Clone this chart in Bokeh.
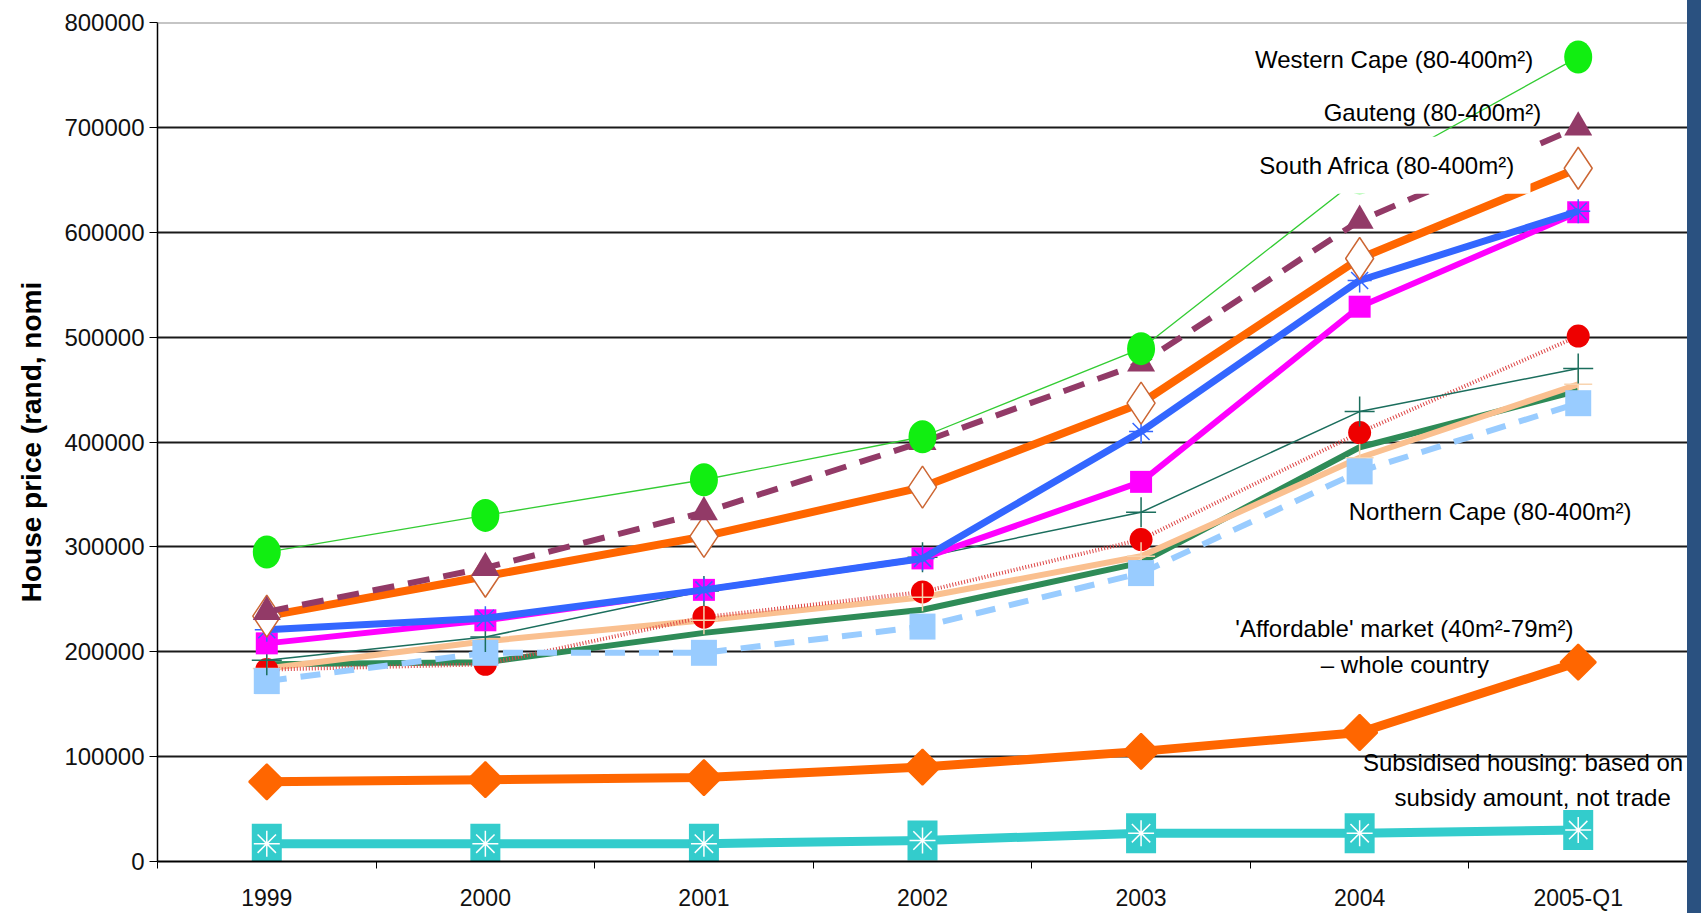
import math
from bokeh.plotting import figure
from bokeh.models import FixedTicker, NumeralTickFormatter, Label, Div, Span
from bokeh.layouts import row
from bokeh.embed import file_html
from bokeh.resources import INLINE

# ---------------- data ----------------
categories = ["1999", "2000", "2001", "2002", "2003", "2004", "2005-Q1"]
y_ticks = [0, 100000, 200000, 300000, 400000, 500000, 600000, 700000, 800000]

western_cape = [295000, 330000, 364000, 405000, 489000, 652000, 767000]
gauteng = [238000, 280000, 333000, 400000, 475000, 611000, 700000]
south_africa = [234000, 272000, 310000, 357000, 437000, 575000, 661000]
series_blue = [221000, 232000, 259000, 289000, 410000, 554000, 620000]
series_magenta = [208000, 230000, 259000, 289000, 362000, 529000, 619000]
series_red = [183000, 188000, 233000, 257000, 307000, 409000, 501000]
series_teal = [192000, 214000, 258000, 290000, 333000, 429000, 470000]
series_seagreen = [188000, 190000, 218000, 240000, 285000, 395000, 449000]
series_peach = [184000, 210000, 230000, 252000, 291000, 385000, 455000]
northern_cape = [172000, 199000, 199000, 224000, 275000, 372000, 437000]
affordable = [76000, 78000, 80000, 90000, 105000, 123000, 190000]
subsidised = [17000, 17000, 17000, 20000, 27000, 27000, 30000]

label_western_cape = "Western Cape (80-400m²)"
label_gauteng = "Gauteng (80-400m²)"
label_south_africa = "South Africa (80-400m²)"
label_northern_cape = "Northern Cape (80-400m²)"
label_affordable_1 = "'Affordable' market (40m²-79m²)"
label_affordable_2 = "– whole country"
label_subsidised_1 = "Subsidised housing: based on"
label_subsidised_2 = "subsidy amount, not trade"
y_title = "House price (rand, nomi"

FONT = "Liberation Sans"

x = [i + 0.5 for i in range(len(categories))]

p = figure(width=1687, height=913, x_range=(0, len(categories)),
           y_range=(y_ticks[0], y_ticks[-1]),
           output_backend="svg", toolbar_location=None,
           min_border_left=157, min_border_right=0, min_border_top=22,
           min_border_bottom=51, background_fill_color="white",
           border_fill_color="white", outline_line_color=None)

# x axis: labels at centres, ticks at category boundaries
p.xaxis.ticker = FixedTicker(ticks=x, minor_ticks=list(range(len(categories) + 1)))
p.xaxis.major_label_overrides = {xi: c for xi, c in zip(x, categories)}
p.xaxis.major_tick_out = 0
p.xaxis.major_tick_in = 0
p.xaxis.minor_tick_out = 7
p.xaxis.minor_tick_in = 0
p.xaxis.minor_tick_line_color = "black"
p.xaxis.axis_line_color = "black"
p.xaxis.axis_line_width = 2
p.xaxis.major_label_text_font = FONT
p.xaxis.major_label_text_font_size = "23px"
p.xaxis.major_label_text_color = "#111111"
p.xaxis.major_label_standoff = 16

# y axis
p.yaxis.ticker = FixedTicker(ticks=y_ticks)
p.yaxis.formatter = NumeralTickFormatter(format="0")
p.yaxis.major_tick_out = 8
p.yaxis.major_tick_in = 0
p.yaxis.minor_tick_out = 0
p.yaxis.minor_tick_in = 0
p.yaxis.major_tick_line_color = "black"
p.yaxis.axis_line_color = "black"
p.yaxis.axis_line_width = 1.5
p.yaxis.major_label_text_font = FONT
p.yaxis.major_label_text_font_size = "24px"
p.yaxis.major_label_text_color = "#111111"
p.yaxis.major_label_standoff = 5
p.yaxis.axis_label = y_title
p.yaxis.axis_label_text_font = FONT
p.yaxis.axis_label_text_font_style = "bold"
p.yaxis.axis_label_text_font_size = "28px"
p.yaxis.axis_label_text_color = "black"
p.yaxis.axis_label_standoff = 14

p.xgrid.visible = False
p.ygrid.ticker = FixedTicker(ticks=y_ticks[1:-1])
p.ygrid.grid_line_color = "#1a1a1a"
p.ygrid.grid_line_width = 2
p.add_layout(Span(location=y_ticks[-1], dimension="width",
                  line_color="#8c8c8c", line_width=2))

# ---------------- series ----------------
# Subsidised
p.line(x, subsidised, line_color="#33cccc", line_width=9, line_join="round")
p.rect(x, subsidised, width=30, height=40, width_units="screen",
       height_units="screen", fill_color="#33cccc", line_color=None)
p.scatter(x, subsidised, marker="asterisk", size=26, line_color="white",
          line_width=1.5)

# Affordable
p.line(x, affordable, line_color="#ff6600", line_width=9, line_join="round")
p.scatter(x, affordable, marker="square", angle=math.pi / 4, size=25,
          fill_color="#ff6600", line_color="#ff6600", line_width=2)

# sea green
p.line(x, series_seagreen, line_color="#2e8b57", line_width=6,
       line_join="round")

# peach
p.line(x, series_peach, line_color="#fac090", line_width=6, line_join="round")

# red dotted
p.line(x, series_red, line_color="#dd4444", line_width=4, line_dash="1 2")
p.scatter(x, series_red, marker="circle", size=23, fill_color="#ee0000",
          line_color=None)
p.scatter(x, series_peach, marker="cross", size=28, line_color="#f8d4b0",
          line_width=1.5)

# Northern Cape (light blue dashed)
p.line(x, northern_cape, line_color="#99ccff", line_width=6,
       line_dash="20 14")
p.scatter(x, northern_cape, marker="square", size=26, fill_color="#99ccff",
          line_color=None)

# teal thin
p.line(x, series_teal, line_color="#1b6e5d", line_width=1.5)
p.scatter(x, series_teal, marker="cross", size=30, line_color="#1b6e5d",
          line_width=1.5)

# magenta
p.line(x, series_magenta, line_color="#ff00ff", line_width=6,
       line_join="round")
p.scatter(x, series_magenta, marker="square", size=22, fill_color="#ff00ff",
          line_color=None)

# blue
p.line(x, series_blue, line_color="#3366ff", line_width=7, line_join="round")
p.scatter(x, series_blue, marker="asterisk", size=24, line_color="#3366ff",
          line_width=1.5)

# South Africa
p.line(x, south_africa, line_color="#ff6600", line_width=8, line_join="round")
p.scatter(x, south_africa, marker="diamond", size=42, fill_color="white",
          line_color="#cc6633", line_width=1.5)

# Gauteng
p.line(x, gauteng, line_color="#923a67", line_width=6, line_dash="22 14")
p.scatter(x, gauteng, marker="triangle", size=28, fill_color="#923a67",
          line_color=None)

# Western Cape
p.line(x, western_cape, line_color="#33cc33", line_width=1.3)
p.ellipse(x, western_cape, width=28, height=33, width_units="screen",
          height_units="screen", fill_color="#11ee11", line_color=None)

# ---------------- labels ----------------
def add_label(text, lx, ly, align="center", bg=None, pad=0):
    kw = dict(x=lx, y=ly, text=text, text_font=FONT, text_font_size="24px",
              text_color="black", text_align=align, text_baseline="middle")
    if bg:
        kw.update(background_fill_color=bg, padding=pad)
    p.add_layout(Label(**kw))

add_label(label_western_cape, 5.658, 765000, bg="white", pad=4)
add_label(label_gauteng, 5.833, 714600)
add_label(label_south_africa, 5.627, 663800, bg="white", pad=15)
add_label(label_northern_cape, 6.097, 333300)
add_label(label_affordable_1, 5.705, 221900)
add_label(label_affordable_2, 5.707, 187600)
add_label(label_subsidised_1, 5.515, 94700, align="left")
add_label(label_subsidised_2, 5.66, 61000, align="left")

bar = Div(text="", width=14, height=913, margin=0,
          styles={"background-color": "#2a5180"})

layout = row(p, bar, spacing=0)
open("out.html", "w").write(file_html(layout, INLINE))
